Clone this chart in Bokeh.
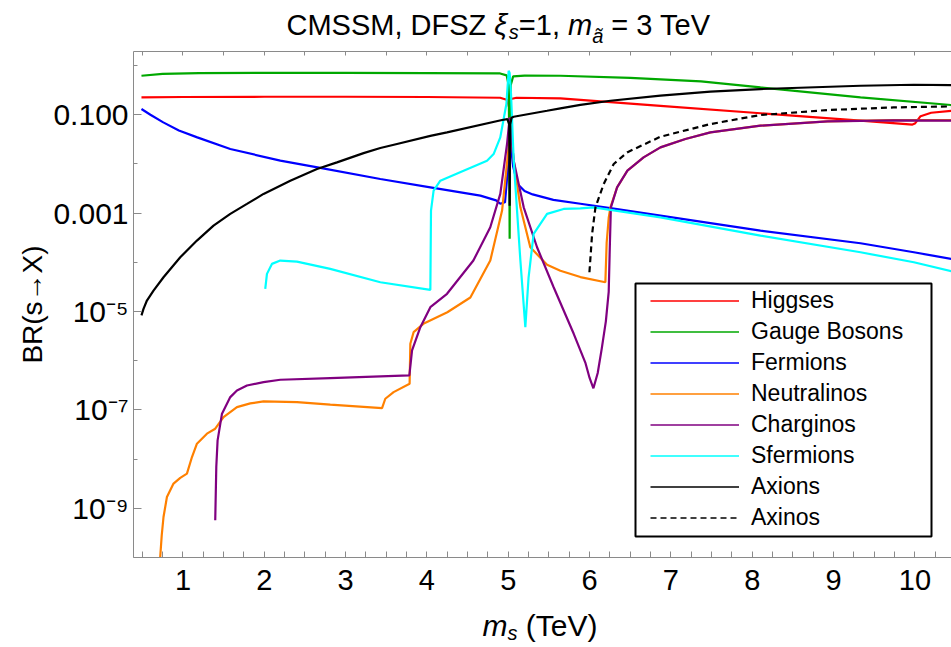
import numpy as np
from bokeh.plotting import figure
from bokeh.models import (FixedTicker, LinearAxis, Legend, LegendItem, Label,
                          BoxAnnotation, Range1d)
from bokeh.embed import file_html
from bokeh.resources import INLINE

FONT = "Liberation Sans"

# ---- data: x in TeV, values are log10(BR) ----
higgs_x = [0.49, 1.0, 2.0, 3.0, 4.0, 4.9, 4.99, 5.017, 5.035, 5.1, 5.641, 6.871, 8.101,
           9.331, 9.97, 10.0, 10.07, 10.2, 10.45]
higgs_lg = [-0.649, -0.640, -0.635, -0.635, -0.640, -0.655, -0.70, -0.90, -0.68, -0.655,
            -0.669, -0.82, -0.97, -1.12, -1.20, -1.18, -1.03, -0.96, -0.92]

gauge_x = [0.49, 0.75, 1.2, 2.0, 3.0, 4.0, 4.9, 4.98, 5.005, 5.012, 5.017, 5.022, 5.03,
           5.06, 5.2, 5.641, 6.5, 7.37, 8.101, 9.331, 10.45]
gauge_lg = [-0.208, -0.170, -0.153, -0.148, -0.148, -0.153, -0.161, -0.20, -0.40, -1.50,
            -3.52, -1.50, -0.40, -0.22, -0.205, -0.208, -0.25, -0.324, -0.446, -0.649,
            -0.803]

fermion_x = [0.49, 0.6, 0.758, 0.95, 1.176, 1.582, 2.197, 2.688, 3.427, 4.042, 4.657,
             4.85, 4.902, 4.96, 5.0, 5.017, 5.03, 5.06, 5.09, 5.12, 5.2, 5.3, 5.555,
             5.887, 6.317, 6.871, 8.101, 9.331, 9.987, 10.45]
fermion_lg = [-0.884, -1.0, -1.156, -1.32, -1.461, -1.696, -1.934, -2.082, -2.306,
              -2.476, -2.645, -2.74, -2.81, -2.78, -2.0, -1.06, -1.6, -2.05, -2.25, -2.42,
              -2.55, -2.62, -2.73, -2.81, -2.915, -3.051, -3.355, -3.613, -3.796, -3.93]

neutralino_x = [0.72, 0.739, 0.761, 0.803, 0.884, 0.967, 1.049, 1.111, 1.172, 1.295,
                1.397, 1.499, 1.664, 1.828, 1.991, 2.402, 2.812, 3.448, 3.488, 3.590,
                3.787, 3.796, 3.836, 3.956, 4.251, 4.534, 4.779, 4.924, 5.005, 5.017,
                5.067, 5.149, 5.271, 5.477, 5.641, 5.887, 6.194, 6.21, 6.235, 6.256,
                6.338, 6.465, 6.664, 6.871, 7.178, 7.486, 8.101, 8.925, 9.737, 10.45]
neutralino_lg = [-10.0, -9.553, -9.177, -8.771, -8.498, -8.381, -8.296, -7.958, -7.686,
                 -7.483, -7.382, -7.146, -6.943, -6.868, -6.827, -6.842, -6.894, -6.963,
                 -6.773, -6.639, -6.468, -5.656, -5.420, -5.25, -5.014, -4.716, -3.964,
                 -2.949, -1.664, -1.06, -1.934, -2.882, -3.694, -4.05, -4.17, -4.30,
                 -4.405, -3.6, -3.1, -2.882, -2.476, -2.137, -1.867, -1.664, -1.493,
                 -1.359, -1.223, -1.136, -1.108, -1.108]

chargino_x = [1.397, 1.41, 1.426, 1.48, 1.582, 1.664, 1.787, 1.991, 2.197, 2.811, 3.784,
              3.817, 3.919, 4.042, 4.247, 4.571, 4.779, 4.902, 4.985, 5.017, 5.067, 5.19,
              5.354, 5.558, 5.805, 5.95, 6.0, 6.047, 6.1, 6.15, 6.2, 6.235, 6.25, 6.262,
              6.338, 6.465, 6.664, 6.871, 7.178, 7.486, 8.101, 8.925, 9.737, 10.45]
chargino_lg = [-9.244, -8.16, -7.619, -7.077, -6.740, -6.604, -6.503, -6.436, -6.387,
               -6.354, -6.300, -5.792, -5.319, -4.913, -4.64, -3.964, -3.288, -2.61,
               -1.595, -1.06, -1.934, -2.882, -3.694, -4.507, -5.453, -6.05, -6.35,
               -6.56, -6.25, -5.75, -5.2, -4.6, -3.6, -2.882, -2.476, -2.137, -1.867,
               -1.664, -1.493, -1.359, -1.223, -1.136, -1.115, -1.122]

sfermion_x = [2.012, 2.033, 2.094, 2.197, 2.402, 2.811, 3.427, 4.042, 4.05, 4.082, 4.165,
              4.451, 4.739, 4.82, 4.902, 4.977, 5.005, 5.017, 5.034, 5.067, 5.149, 5.21,
              5.25, 5.312, 5.477, 5.681, 5.887, 6.05, 6.317, 6.871, 8.101, 9.331, 9.987,
              10.45]
sfermion_lg = [-4.539, -4.235, -4.032, -3.964, -3.985, -4.133, -4.405, -4.559, -2.949,
               -2.543, -2.34, -2.137, -1.934, -1.80, -1.461, -0.783, -0.107, -0.15, -0.58,
               -1.934, -3.964, -5.319, -4.304, -3.422, -3.016, -2.915, -2.903, -2.882,
               -2.949, -3.085, -3.457, -3.796, -3.999, -4.182]

axion_x = [0.49, 0.515, 0.557, 0.638, 0.761, 0.967, 1.172, 1.376, 1.582, 1.787, 1.991,
           2.32, 2.648, 2.894, 3.221, 3.427, 3.632, 4.042, 4.247, 4.924, 4.99, 5.012,
           5.017, 5.024, 5.04, 5.067, 5.477, 5.641, 5.887, 6.256, 6.871, 7.486, 8.101,
           9.331, 9.987, 10.45]
axion_lg = [-5.08, -4.945, -4.777, -4.574, -4.304, -3.897, -3.558, -3.254, -3.016,
            -2.813, -2.61, -2.34, -2.103, -1.969, -1.78, -1.677, -1.595, -1.43, -1.359,
            -1.108, -1.09, -1.2, -2.848, -1.2, -1.06, -1.041, -0.92, -0.87, -0.80,
            -0.716, -0.61, -0.53, -0.478, -0.411, -0.391, -0.40]

axino_x = [5.998, 6.031, 6.072, 6.174, 6.297, 6.461, 6.871, 7.486, 8.101, 8.925, 9.737,
           10.45]
axino_lg = [-4.202, -3.422, -2.882, -2.407, -2.001, -1.766, -1.447, -1.19, -1.006, -0.905,
            -0.852, -0.831]

series_names = ["Higgses", "Gauge Bosons", "Fermions", "Neutralinos", "Charginos",
                "Sfermions", "Axions", "Axinos"]
series_colors = ["#FF0000", "#00A800", "#0000FF", "#FF8000", "#800080", "#00FFFF",
                 "#000000", "#000000"]
series_dash = ["solid"] * 7 + ["6 4"]
series_data = [(higgs_x, higgs_lg), (gauge_x, gauge_lg), (fermion_x, fermion_lg),
               (neutralino_x, neutralino_lg), (chargino_x, chargino_lg),
               (sfermion_x, sfermion_lg), (axion_x, axion_lg), (axino_x, axino_lg)]

x_ticks = [1, 2, 3, 4, 5, 6, 7, 8, 9, 10]
y_ticks = [1e-9, 1e-7, 1e-5, 1e-3, 1e-1]
y_tick_labels = ["10\u207b\u2079", "10\u207b\u2077", "10\u207b\u2075", "0.001", "0.100"]
y_minor = [1e-10, 1e-8, 1e-6, 1e-4, 1e-2, 1.0]

# ---- layout: the frame fills the canvas, axes are pinned at the plot box ----
W, H = 951, 647
FL, FR, FT, FB = 133, 951, 51, 557          # plot box in canvas pixels
X0, X1 = 0.392, 10.45                       # x limits of the plot box
L0, L1 = -10.0, 0.285                       # log10 limits of the plot box
sx = (FR - FL) / (X1 - X0)
sy = (FB - FT) / (L1 - L0)


def dx(px):
    return X0 + (px - FL) / sx


def dy(py):
    return 10 ** (L0 + (FB - py) / sy)


p = figure(width=W, height=H, x_range=Range1d(dx(0), dx(W)),
           y_range=Range1d(dy(H), dy(0)), y_axis_type="log",
           output_backend="svg", toolbar_location=None,
           min_border=0, min_border_left=0, min_border_right=0, min_border_top=0,
           min_border_bottom=0)
p.outline_line_color = None
p.grid.visible = False
p.background_fill_color = "white"
p.border_fill_color = "white"

AX = "#8a8a8a"
xa = p.xaxis[0]
xa.fixed_location = 10 ** L0
xa.bounds = (X0, X1)
xa.ticker = FixedTicker(ticks=x_ticks,
                        minor_ticks=[t / 4 for t in range(2, 43) if t % 4])
xa.axis_line_color = AX
xa.major_tick_line_color = AX
xa.minor_tick_line_color = AX
xa.major_tick_in, xa.major_tick_out = 6, 0
xa.minor_tick_in, xa.minor_tick_out = 6, 0
xa.major_label_text_font = FONT
xa.major_label_text_font_size = "29px"
xa.major_label_text_color = "black"
xa.major_label_standoff = 12

ya = p.yaxis[0]
ya.fixed_location = X0
ya.bounds = (10 ** L0, 10 ** L1)
ya.ticker = FixedTicker(ticks=y_ticks, minor_ticks=y_minor)
ya.major_label_overrides = {t: s for t, s in zip(y_ticks, y_tick_labels)}
ya.axis_line_color = AX
ya.major_tick_line_color = AX
ya.minor_tick_line_color = AX
ya.major_tick_in, ya.major_tick_out = 8, 0
ya.minor_tick_in, ya.minor_tick_out = 4, 0
ya.major_label_text_font = FONT
ya.major_label_text_font_size = "30px"
ya.major_label_text_color = "black"
ya.major_label_standoff = 5
ya.axis_label = "BR(s\u2192X)"
ya.axis_label_text_font = FONT
ya.axis_label_text_font_size = "28px"
ya.axis_label_text_font_style = "normal"
ya.axis_label_text_color = "black"
ya.axis_label_standoff = 2

top = LinearAxis(fixed_location=10 ** L1, bounds=(X0, X1),
                 ticker=FixedTicker(ticks=[], minor_ticks=[t / 2 for t in range(1, 21)]),
                 axis_line_color=AX, minor_tick_line_color=AX,
                 minor_tick_in=4, minor_tick_out=0)
p.add_layout(top, "above")

# ---- curves ----
for (xs, lg), col, dash in zip(series_data, series_colors, series_dash):
    p.line(xs, 10 ** np.array(lg), line_color=col, line_width=2.2, line_dash=dash)

# ---- legend with its own box and thin sample lines ----
box = BoxAnnotation(left=dx(635), right=dx(931), top=dy(283), bottom=dy(536),
                    fill_color="white", fill_alpha=1.0, line_color="black",
                    line_width=2, line_alpha=1.0)
p.add_layout(box)
items = []
for name, col, dash in zip(series_names, series_colors, series_dash):
    r = p.line(np.array([np.nan]), np.array([np.nan]), line_color=col, line_width=1.3,
               line_dash=dash)
    items.append(LegendItem(label=name, renderers=[r]))
legend = Legend(items=items, location=(647, H - 536), padding=3, spacing=0,
                glyph_width=89, glyph_height=31, label_height=31, label_standoff=12,
                label_text_font=FONT, label_text_font_size="23px",
                label_text_color="black",
                border_line_alpha=0, background_fill_alpha=0, margin=0)
p.add_layout(legend, "center")

# ---- title and x-axis label as rich-text runs (style None = a word space) ----
ADV = {"C": .722, "M": .833, "S": .667, ",": .278, " ": .278, "D": .722, "F": .611,
       "Z": .611, "=": .584, "1": .556, "3": .556, "T": .611, "e": .556, "V": .667,
       "m": .833, "s": .5, "\u03be": .5, "\u00e3": .556, "(": .333, ")": .333}


def runs(parts, x_start, mid):
    x = x_start
    for text, size, style, drop in parts:
        if style is None:
            x += ADV[" "] * size
            continue
        p.add_layout(Label(x=x, y=H - mid - drop, x_units="screen",
                           y_units="screen", text=text, text_font=FONT,
                           text_font_size=f"{size}px", text_font_style=style,
                           text_baseline="middle", text_align="left",
                           text_color="black"))
        x += sum(ADV.get(c, .556) for c in text) * size


T, TS = 29, 20
runs([("CMSSM, DFSZ", T, "normal", 0), ("", T, None, 0), ("\u03be", T, "italic", 0),
      ("s", TS, "italic", 7), ("=1,", T, "normal", 0), ("", T, None, 0),
      ("m", T, "italic", 0), ("\u00e3", TS, "italic", 11), ("", T, None, 0),
      ("= 3 TeV", T, "normal", 0)], 286, 24)
runs([("m", 30, "italic", 0), ("s", 20, "italic", 7), ("", 30, None, 0),
      ("(TeV)", 30, "normal", 0)], 482, 625)

open("out.html", "w").write(file_html(p, INLINE))
